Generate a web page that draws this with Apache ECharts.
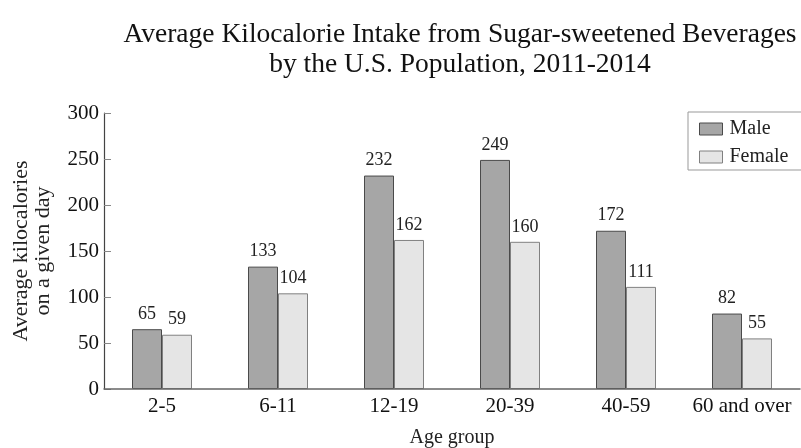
<!DOCTYPE html>
<html><head><meta charset="utf-8">
<script src="https://cdn.jsdelivr.net/npm/echarts@6/dist/echarts.min.js"></script>
<style>html,body{margin:0;padding:0;background:#fff}#c{width:801px;height:448px}</style>
</head><body><div id="c"></div>
<script>
const categories = ['2-5', '6-11', '12-19', '20-39', '40-59', '60 and over'];
const maleValues = [65, 133, 232, 249, 172, 82];
const femaleValues = [59, 104, 162, 160, 111, 55];
const yTicks = [0, 50, 100, 150, 200, 250, 300];

const FONT = 'Liberation Serif';
const chart = echarts.init(document.getElementById('c'), null, {renderer: 'canvas'});
chart.setOption({
  animation: false,
  backgroundColor: '#fff',
  textStyle: {fontFamily: FONT},
  title: {
    text: 'Average Kilocalorie Intake from Sugar-sweetened Beverages\nby the U.S. Population, 2011-2014',
    left: 455, top: 15, textAlign: 'center',
    textStyle: {fontFamily: FONT, fontSize: 27.5, fontWeight: 'normal', color: '#111', lineHeight: 30}
  },
  legend: {
    data: ['Male', 'Female'],
    orient: 'vertical',
    left: 688, top: 112,
    padding: [7, 40, 3, 11],
    itemGap: 8,
    itemWidth: 23, itemHeight: 12,
    icon: 'rect',
    itemStyle: {borderWidth: 1},
    borderColor: '#999', borderWidth: 1, borderRadius: 0,
    textStyle: {fontFamily: FONT, fontSize: 20, color: '#222', padding: [0, 0, 0, 2]}
  },
  grid: {left: 104, right: 1, top: 113, bottom: 59, containLabel: false, outerBoundsMode: 'none'},
  xAxis: {
    type: 'category', data: categories,
    name: 'Age group', nameLocation: 'middle', nameGap: 39,
    nameTextStyle: {fontFamily: FONT, fontSize: 20, color: '#222'},
    axisLine: {lineStyle: {color: '#666', width: 1.5}},
    axisTick: {show: false},
    axisLabel: {fontFamily: FONT, fontSize: 21, color: '#111', margin: 7, interval: 0},
    z: 10
  },
  yAxis: {
    type: 'value', min: 0, max: 300, interval: 50,
    name: 'Average kilocalories\non a given day', nameLocation: 'middle', nameGap: 50, nameRotate: 90,
    nameTextStyle: {fontFamily: FONT, fontSize: 22, color: '#222', lineHeight: 22},
    axisLine: {show: true, lineStyle: {color: '#444', width: 1.2}},
    axisTick: {show: true, inside: true, length: 7, lineStyle: {color: '#888'}},
    splitLine: {show: false},
    axisLabel: {fontFamily: FONT, fontSize: 21, color: '#111', margin: 5,
      formatter: v => yTicks.includes(v) ? String(v) : ''}
  },
  series: [
    {name: 'Male', type: 'bar', data: maleValues, barWidth: 30, barGap: '0%',
     itemStyle: {color: '#a6a6a6', borderColor: '#4a4a4a', borderWidth: 1},
     label: {show: true, position: 'top', distance: 6, fontFamily: FONT, fontSize: 18, color: '#222'}},
    {name: 'Female', type: 'bar', data: femaleValues, barWidth: 30,
     itemStyle: {color: '#e5e5e5', borderColor: '#808080', borderWidth: 1},
     label: {show: true, position: 'top', distance: 6, fontFamily: FONT, fontSize: 18, color: '#222'}}
  ]
});
</script></body></html>
